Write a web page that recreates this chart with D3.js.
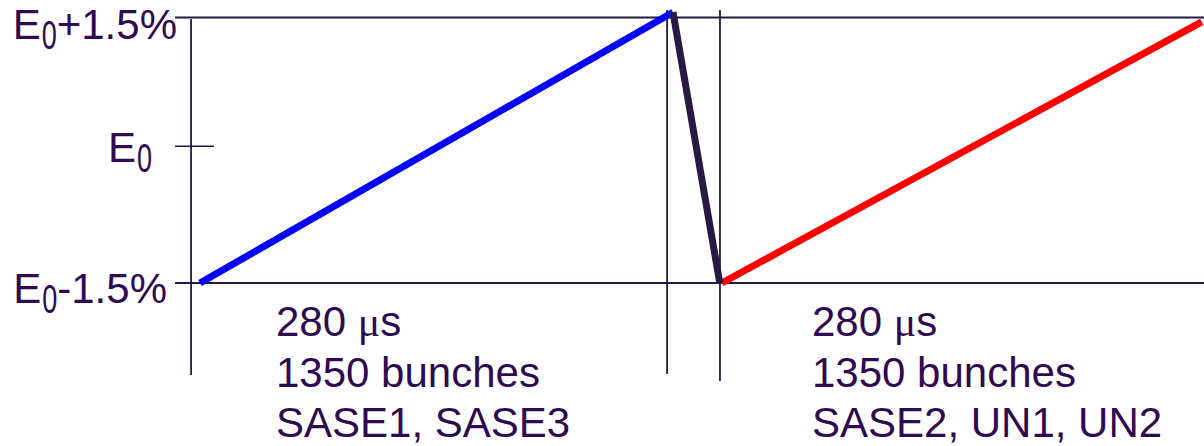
<!DOCTYPE html>
<html><head><meta charset="utf-8">
<script src="https://cdn.jsdelivr.net/npm/d3@7"></script>
<style>html,body{margin:0;padding:0;background:#fff;}svg{display:block;}</style>
</head><body>
<svg id="c" width="1204" height="446"></svg>
<script>
// ---- data ----
const rampUpTimes = [0, 280];          // µs
const rampUpValues = [-1.5, 1.56];     // % energy offset
const dropTimes = [280, 307.7];
const dropValues = [1.56, -1.5];
const ramp2Times = [308.9, 593];
const ramp2Values = [-1.5, 1.45];
const levelValues = [1.5, 0, -1.5];
const levelLabels = [["E", "0", "+1.5%"], ["E", "0", ""], ["E", "0", "-1.5%"]];
const dividerTimes = [-5.3, 276.5, 307.8];
const phaseDurations = ["280 μs", "280 μs"];
const phaseBunches = ["1350 bunches", "1350 bunches"];
const phaseUsers = ["SASE1, SASE3", "SASE2, UN1, UN2"];

// ---- scales ----
const x = d3.scaleLinear().domain([0, 280]).range([200, 673]);
const y = d3.scaleLinear().domain([-1.5, 1.5]).range([283, 17.5]);

const svg = d3.select("#c");
const lineCol = "#231942";
const textCol = "#2e0a52";
const font = "'Liberation Sans', Arial, sans-serif";

// horizontal level lines
svg.append("line").attr("x1", 175).attr("x2", 1204).attr("y1", y(1.5)).attr("y2", y(1.5))
  .attr("stroke", lineCol).attr("stroke-width", 2);
svg.append("line").attr("x1", 175).attr("x2", 1204).attr("y1", y(-1.5)).attr("y2", y(-1.5))
  .attr("stroke", lineCol).attr("stroke-width", 2);
// E0 tick
svg.append("line").attr("x1", 175).attr("x2", 214).attr("y1", y(0) - 4).attr("y2", y(0) - 4)
  .attr("stroke", lineCol).attr("stroke-width", 1.6);

// vertical dividers
const vTops = [19, 10, 10], vBots = [375, 374, 381];
dividerTimes.forEach((t, i) => {
  svg.append("line").attr("x1", x(t)).attr("x2", x(t)).attr("y1", vTops[i]).attr("y2", vBots[i])
    .attr("stroke", lineCol).attr("stroke-width", 1.8);
});

// ramps
const ln = d3.line().x(d => x(d[0])).y(d => y(d[1]));
function seg(ts, vs, col) {
  svg.append("path").datum(ts.map((t, i) => [t, vs[i]])).attr("d", ln)
    .attr("fill", "none").attr("stroke", col).attr("stroke-width", 7).attr("stroke-linecap", "butt");
}
seg(rampUpTimes, rampUpValues, "#0000ff");
seg(ramp2Times, ramp2Values, "#ff0000");
seg(dropTimes, dropValues, "#261a45");

// level labels
const labelRight = [177, 152, 167];
const labelDy = [21.5, 12, 20];
levelValues.forEach((v, i) => {
  const g = svg.append("g");
  const [a, sub, rest] = levelLabels[i];
  const base = y(v) + labelDy[i];
  const t1 = g.append("text").attr("x", 0).attr("y", 0).attr("font-family", font)
    .attr("font-size", 42).attr("fill", textCol).text(a);
  const w1 = t1.node().getComputedTextLength();
  const t2 = g.append("text").attr("transform", `translate(${w1 + 1},10) scale(0.66,1)`)
    .attr("font-family", font).attr("font-size", 41).attr("fill", textCol).text(sub);
  const w2 = t2.node().getComputedTextLength() * 0.66 + 1;
  let w3 = 0;
  if (rest) {
    const t3 = g.append("text").attr("x", w1 + w2).attr("y", 0).attr("font-family", font)
      .attr("font-size", 42).attr("fill", textCol).text(rest);
    w3 = t3.node().getComputedTextLength();
  }
  const total = w1 + w2 + w3;
  g.attr("transform", `translate(${labelRight[i] - total},${base})`);
});

// phase annotations
const phaseStart = [0, 308.9];
const phaseX = [276, 812];
phaseUsers.forEach((u, i) => {
  const tx = svg.append("text").attr("font-family", font).attr("font-size", 42).attr("fill", textCol);
  const dur = phaseDurations[i].split("μ");
  const l1 = tx.append("tspan").attr("x", phaseX[i]).attr("y", 336);
  l1.append("tspan").text(dur[0]);
  l1.append("tspan").attr("font-family", "'Liberation Serif', 'Times New Roman', serif").text("μ");
  l1.append("tspan").text(dur[1]);
  tx.append("tspan").attr("x", phaseX[i]).attr("y", 386.7).text(phaseBunches[i]);
  tx.append("tspan").attr("x", phaseX[i]).attr("y", 436.7).text(u);
});
</script>
</body></html>
